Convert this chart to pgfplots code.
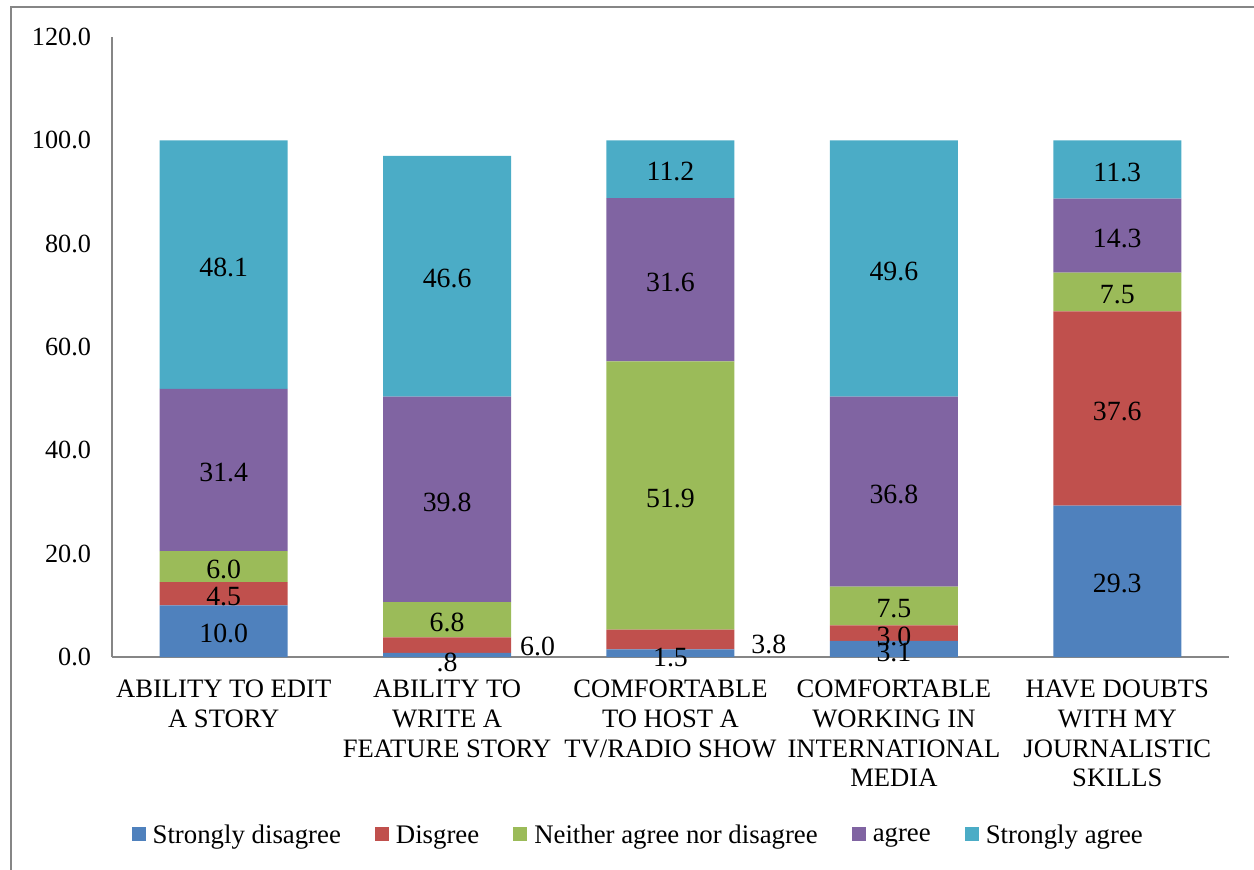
\documentclass[border=0pt]{standalone}
\usepackage{pgfplots}
\pgfplotsset{compat=1.18}
\usepackage{pgfplotstable}
\usepackage{fontspec}
\setmainfont{Liberation Serif}
\definecolor{cSD}{HTML}{4F81BD}
\definecolor{cD}{HTML}{C0504D}
\definecolor{cN}{HTML}{9BBB59}
\definecolor{cA}{HTML}{8064A2}
\definecolor{cSA}{HTML}{4BACC6}
\definecolor{axgray}{HTML}{868686}
\pgfplotstableread{
x sd d n a sa
0 10.0 4.5 6.0 31.4 48.1
1 0.8 3.0 6.8 39.8 46.6
2 1.5 3.8 51.9 31.6 11.2
3 3.1 3.0 7.5 36.8 49.6
4 29.3 37.6 7.5 14.3 11.3
}\datatab
\pgfplotstableread{
x y label
0 5.0 10.0
0 12.25 4.5
0 17.5 6.0
0 36.2 31.4
0 75.95 48.1
1 -0.5 .8
1.405 2.5 6.0
1 7.2 6.8
1 30.5 39.8
1 73.7 46.6
2 0.4 1.5
2.44 3.0 3.8
2 31.25 51.9
2 73.0 31.6
2 94.4 11.2
3 1.3 3.1
3 4.5 3.0
3 9.85 7.5
3 32.0 36.8
3 75.2 49.6
4 14.65 29.3
4 48.1 37.6
4 70.65 7.5
4 81.55 14.3
4 94.35 11.3
}\labtab
\begin{document}
\begin{tikzpicture}
\useasboundingbox (-56pt,-106pt) rectangle (571pt,328.5pt);
\draw[color=axgray, line width=1pt] (-50.5pt,-120pt) -- (-50.5pt,325pt) -- (590pt,325pt);
\begin{axis}[
  at={(0pt,0pt)}, anchor=south west,
  scale only axis, width=558.5pt, height=310pt,
  ybar stacked, bar width=64pt,
  xmin=-0.5, xmax=4.5, ymin=0, ymax=120,
  enlargelimits=false,
  axis x line*=bottom, axis y line*=left,
  axis line style={color=axgray, line width=1pt, -},
  major tick length=0pt,
  xtick={0,1,2,3,4},
  xticklabels={{ABILITY TO EDIT\\A STORY},{ABILITY TO\\WRITE A\\FEATURE STORY},{COMFORTABLE\\TO HOST A\\TV/RADIO SHOW},{COMFORTABLE\\WORKING IN\\INTERNATIONAL\\MEDIA},{HAVE DOUBTS\\WITH MY\\JOURNALISTIC\\SKILLS}},
  xticklabel style={align=center, font=\fontsize{13.3}{14.85}\selectfont, yshift=-8pt},
  ytick={0,20,...,120},
  yticklabel style={font=\fontsize{13.1}{15}\selectfont, xshift=-7pt,
    /pgf/number format/.cd, fixed, fixed zerofill, precision=1, assume math mode=true},
  scaled y ticks=false,
  legend style={at={(0.472,-0.289)}, anchor=center, draw=none, legend columns=-1,
    font=\fontsize{13.4}{16}\selectfont,
    /tikz/every odd column/.append style={column sep=1.5pt},
    /tikz/every even column/.append style={column sep=15pt}},
  legend image code/.code={\fill[#1] (0pt,-2.2pt) rectangle (7pt,4.8pt);},
]
\addplot[fill=cSD, draw=none] table[x=x, y=sd] {\datatab};
\addplot[fill=cD, draw=none] table[x=x, y=d] {\datatab};
\addplot[fill=cN, draw=none] table[x=x, y=n] {\datatab};
\addplot[fill=cA, draw=none] table[x=x, y=a] {\datatab};
\addplot[fill=cSA, draw=none] table[x=x, y=sa] {\datatab};
\legend{Strongly disagree, Disgree, Neither agree nor disagree, agree, Strongly agree}
\end{axis}
\begin{axis}[
  at={(0pt,0pt)}, anchor=south west,
  scale only axis, width=558.5pt, height=310pt,
  xmin=-0.5, xmax=4.5, ymin=0, ymax=120,
  enlargelimits=false, hide axis, clip=false,
]
\addplot[draw=none, mark=none, nodes near coords, point meta=explicit symbolic,
  every node near coord/.style={anchor=center, inner sep=0pt, yshift=-1.3pt, font=\fontsize{13.9}{16}\selectfont, text=black}]
  table[x=x, y=y, meta=label] {\labtab};
\end{axis}
\end{tikzpicture}
\end{document}
